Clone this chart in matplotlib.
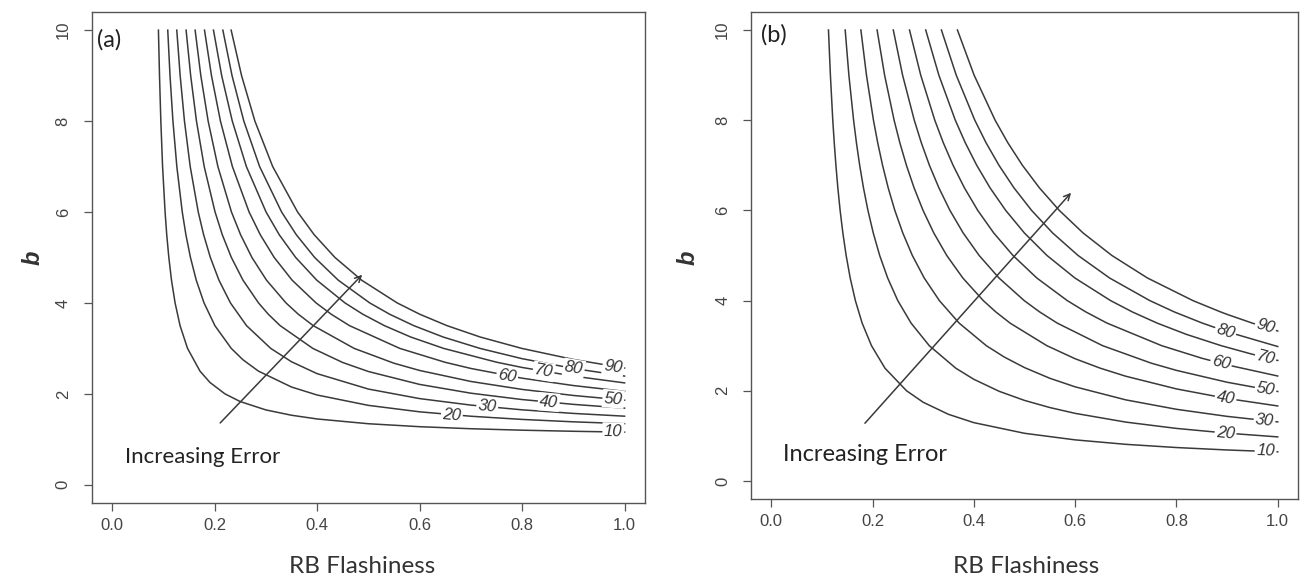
import matplotlib
matplotlib.use("Agg")
import matplotlib.pyplot as plt

levels = [10, 20, 30, 40, 50, 60, 70, 80, 90]

# panel (a): contour lines, as (RB flashiness, b) points
a_x = [
    [.0905, .0926, .0952, .0986, .1035, .1067, .1108, .1160, .1230, .1327, .1473, .1716, .1911, .2203, .25, .3, .35, .4, .5, .6, .7, .8, .9, 1.0],
    [.1087, .1131, .1188, .1264, .1370, .1441, .1530, .1643, .1795, .2007, .2326, .2554, .2857, .35, .4, .5, .6, .7, .8, .9, 1.0],
    [.1263, .1329, .1413, .1525, .1682, .1787, .1918, .2086, .2310, .2624, .3096, .35, .4, .5, .6, .7, .8, .9, 1.0],
    [.1445, .1534, .1647, .1798, .2010, .2151, .2328, .2555, .2858, .3050, .3281, .3917, .45, .5, .6, .7, .8, .9, 1.0],
    [.1621, .1732, .1875, .2065, .2330, .2508, .2729, .3014, .3394, .3636, .3926, .4724, .55, .6, .7, .8, .9, 1.0],
    [.1804, .1940, .2115, .2348, .2674, .2892, .3164, .3514, .3981, .4278, .4634, .5614, .65, .7, .8, .9, 1.0],
    [.1979, .2139, .2346, .2621, .3005, .3262, .3583, .3995, .4545, .4895, .5315, .5828, .6470, .75, .8, .9, 1.0],
    [.2162, .2341, .2571, .2879, .3308, .3595, .3953, .4414, .5028, .5419, .5888, .6461, .7178, .8, .9, 1.0],
    [.2324, .2527, .2787, .3134, .3620, .3944, .4349, .4870, .5564, .6006, .6536, .7184, .7994, .9, 1.0],
]
a_b = [
    [10, 9, 8, 7, 6, 5.5, 5, 4.5, 4, 3.5, 3, 2.5, 2.25, 2, 1.831, 1.647, 1.530, 1.448, 1.343, 1.278, 1.233, 1.201, 1.177, 1.158],
    [10, 9, 8, 7, 6, 5.5, 5, 4.5, 4, 3.5, 3, 2.75, 2.5, 2.151, 1.975, 1.747, 1.605, 1.508, 1.438, 1.385, 1.344],
    [10, 9, 8, 7, 6, 5.5, 5, 4.5, 4, 3.5, 3, 2.707, 2.445, 2.106, 1.896, 1.753, 1.649, 1.570, 1.509],
    [10, 9, 8, 7, 6, 5.5, 5, 4.5, 4, 3.75, 3.5, 3, 2.690, 2.492, 2.208, 2.015, 1.875, 1.769, 1.686],
    [10, 9, 8, 7, 6, 5.5, 5, 4.5, 4, 3.75, 3.5, 3, 2.674, 2.515, 2.273, 2.098, 1.965, 1.861],
    [10, 9, 8, 7, 6, 5.5, 5, 4.5, 4, 3.75, 3.5, 3, 2.694, 2.559, 2.345, 2.183, 2.055],
    [10, 9, 8, 7, 6, 5.5, 5, 4.5, 4, 3.75, 3.5, 3.25, 3, 2.697, 2.581, 2.391, 2.241],
    [10, 9, 8, 7, 6, 5.5, 5, 4.5, 4, 3.75, 3.5, 3.25, 3, 2.774, 2.559, 2.391],
    [10, 9, 8, 7, 6, 5.5, 5, 4.5, 4, 3.75, 3.5, 3.25, 3, 2.757, 2.568],
]

# panel (b)
b_x = [
    [.1130, .1168, .1215, .1244, .1277, .1315, .1360, .1414, .1479, .1559, .1661, .1795, .1979, .2246, .2671, .3, .35, .4, .5, .6, .7, .8, .9, 1.0],
    [.1460, .1533, .1626, .1682, .1746, .1821, .1909, .2014, .2141, .2299, .2498, .2761, .3120, .3644, .4, .45, .5, .55, .6, .7, .8, .9, 1.0],
    [.1770, .1880, .2018, .2102, .2198, .2309, .2440, .2597, .2786, .3021, .3319, .3710, .4246, .46, .5, .55, .6, .7, .8, .9, 1.0],
    [.2090, .2238, .2426, .2539, .2669, .2820, .2997, .3209, .3465, .3783, .4186, .4432, .4716, .5441, .6, .65, .7, .8, .9, 1.0],
    [.2410, .2593, .2824, .2963, .3123, .3310, .3528, .3789, .4105, .4497, .4994, .5297, .5647, .6542, .75, .8, .9, 1.0],
    [.2730, .2951, .3229, .3397, .3590, .3814, .4077, .4392, .4773, .5244, .5844, .6208, .6630, .7708, .85, .9, 1.0],
    [.3050, .3309, .3634, .3831, .4057, .4320, .4629, .4997, .5444, .5996, .6699, .7126, .7620, .8198, .8883, .95, 1.0],
    [.3360, .3652, .4019, .4241, .4496, .4792, .5140, .5555, .6058, .6681, .7473, .7954, .8512, .9, 1.0],
    [.3676, .4005, .4420, .4671, .4959, .5294, .5687, .6156, .6725, .7429, .8324, .8868, .9, .9498, 1.0],
]
b_b = [
    [10, 9, 8, 7.5, 7, 6.5, 6, 5.5, 5, 4.5, 4, 3.5, 3, 2.5, 2, 1.745, 1.477, 1.293, 1.057, .911, .812, .741, .687, .645],
    [10, 9, 8, 7.5, 7, 6.5, 6, 5.5, 5, 4.5, 4, 3.5, 3, 2.5, 2.254, 1.988, 1.786, 1.628, 1.499, 1.305, 1.165, 1.060, .977],
    [10, 9, 8, 7.5, 7, 6.5, 6, 5.5, 5, 4.5, 4, 3.5, 3, 2.748, 2.514, 2.277, 2.087, 1.798, 1.589, 1.432, 1.309],
    [10, 9, 8, 7.5, 7, 6.5, 6, 5.5, 5, 4.5, 4, 3.75, 3.5, 3, 2.710, 2.499, 2.322, 2.041, 1.829, 1.663],
    [10, 9, 8, 7.5, 7, 6.5, 6, 5.5, 5, 4.5, 4, 3.75, 3.5, 3, 2.613, 2.452, 2.189, 1.983],
    [10, 9, 8, 7.5, 7, 6.5, 6, 5.5, 5, 4.5, 4, 3.75, 3.5, 3, 2.722, 2.574, 2.327],
    [10, 9, 8, 7.5, 7, 6.5, 6, 5.5, 5, 4.5, 4, 3.75, 3.5, 3.25, 3, 2.809, 2.672],
    [10, 9, 8, 7.5, 7, 6.5, 6, 5.5, 5, 4.5, 4, 3.75, 3.5, 3.309, 2.981],
    [10, 9, 8, 7.5, 7, 6.5, 6, 5.5, 5, 4.5, 4, 3.75, 3.694, 3.5, 3.325],
]

# inline contour labels: position and angle
a_lab_x = [.978, .663, .732, .852, .978, .771, .842, .901, .978]
a_lab_b = [1.17, 1.54, 1.72, 1.82, 1.89, 2.40, 2.495, 2.56, 2.60]
a_lab_rot = [-1, -4.5, -5.5, -5, -5, -10, -10, -9.5, -9]
b_lab_x = [.976, .897, .974, .897, .976, .888, .976, .897, .976]
b_lab_b = [.66, 1.06, 1.35, 1.83, 2.03, 2.61, 2.74, 3.32, 3.42]
b_lab_rot = [-2, -5, -6, -9.5, -10, -14, -14, -18, -17]

# "Increasing Error" arrows (tail, head)
a_arrow = [(0.211, 1.36), (0.488, 4.62)]
b_arrow = [(0.185, 1.28), (0.592, 6.39)]

LINE = "#3a3a3a"
GREY = "#555555"


def draw_panel(ax, xs, bs, lab_x, lab_b, lab_rot, arrow, tag, tag_pos, note_pos, note_size):
    for lv, x, b in zip(levels, xs, bs):
        ax.plot(x, b, color=LINE, lw=1.1, solid_joinstyle="round")
    for lv, x, b, r in zip(levels, lab_x, lab_b, lab_rot):
        ax.text(x, b, str(lv), rotation=r, rotation_mode="anchor", ha="center", va="center",
                fontsize=12, fontstyle="italic", family="Liberation Sans", color="#333333",
                bbox=dict(fc="white", ec="none", pad=1.2), zorder=3)
    ax.annotate("", xy=arrow[1], xytext=arrow[0],
                arrowprops=dict(arrowstyle="->", color=LINE, lw=1.1, mutation_scale=11,
                                shrinkA=0, shrinkB=0))
    ax.text(tag_pos[0], tag_pos[1], tag, ha="left", va="center", fontsize=17,
            family="Lato", color="#222222")
    ax.text(note_pos[0], note_pos[1], "Increasing Error", ha="left", va="baseline",
            fontsize=note_size, family="Lato", color="#222222")

    ax.set_xlim(-0.04, 1.04)
    ax.set_ylim(-0.4, 10.4)
    ax.set_xticks([0.0, 0.2, 0.4, 0.6, 0.8, 1.0])
    ax.set_xticklabels(["0.0", "0.2", "0.4", "0.6", "0.8", "1.0"])
    ax.set_yticks([0, 2, 4, 6, 8, 10])
    ax.set_yticklabels(["0", "2", "4", "6", "8", "10"], rotation=90, va="center")
    ax.tick_params(direction="out", length=6, width=0.9, color=GREY, labelcolor="#444444",
                   labelsize=12)
    ax.tick_params(axis="x", pad=5)
    ax.tick_params(axis="y", pad=9)
    for lab in ax.get_xticklabels() + ax.get_yticklabels():
        lab.set_family("Liberation Sans")
    for s in ax.spines.values():
        s.set_color(GREY)
        s.set_linewidth(1.0)


fig = plt.figure(figsize=(13.04, 5.78), dpi=100)
ax1 = fig.add_axes([0.0702, 0.1298, 0.4245, 0.8495])
ax2 = fig.add_axes([0.5759, 0.1367, 0.4195, 0.8426])

draw_panel(ax1, a_x, a_b, a_lab_x, a_lab_b, a_lab_rot, a_arrow, "(a)", (-0.029, 9.78), (0.025, 0.49), 16)
draw_panel(ax2, b_x, b_b, b_lab_x, b_lab_b, b_lab_rot, b_arrow, "(b)", (-0.02, 9.9), (0.024, 0.45), 17)

for ax, xc, xl in [(ax1, 0.0253, 362 / 1304), (ax2, 688 / 1304, 1026 / 1304)]:
    fig.text(xc, 1 - 258 / 578, "b", rotation=90, ha="center", va="center", fontsize=17,
             fontstyle="italic", fontweight="bold", family="Liberation Sans", color="#333333")
    fig.text(xl, 0.008, "RB Flashiness", ha="center", va="baseline", fontsize=17.5,
             family="Lato", color="#333333")

fig.savefig("out.png", dpi=100)
